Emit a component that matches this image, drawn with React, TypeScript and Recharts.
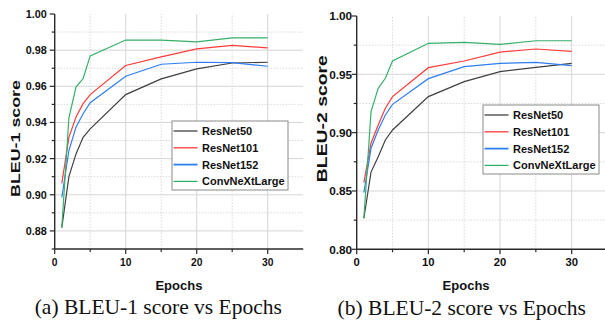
import React from 'react';
import { LineChart, Line, XAxis, YAxis, ReferenceLine } from 'recharts';

const epochs = [1, 2, 3, 4, 5, 10, 15, 20, 25, 30];
const seriesNames = ['ResNet50', 'ResNet101', 'ResNet152', 'ConvNeXtLarge'];
const seriesColors = ['#404040', '#ff3b3b', '#2f7ef0', '#35b06a'];

const resnet50B1 = [0.8818, 0.91, 0.9226, 0.9318, 0.9365, 0.9554, 0.9641, 0.9696, 0.9729, 0.9733];
const resnet101B1 = [0.9063, 0.9318, 0.943, 0.9504, 0.9554, 0.9715, 0.9763, 0.9807, 0.9826, 0.9813];
const resnet152B1 = [0.8985, 0.9244, 0.9374, 0.9448, 0.9509, 0.9656, 0.9722, 0.9733, 0.9731, 0.9711];
const convnextB1 = [0.8818, 0.9426, 0.9596, 0.9643, 0.9768, 0.9856, 0.9856, 0.9846, 0.9868, 0.9868];

const resnet50B2 = [0.8266, 0.8662, 0.8794, 0.8937, 0.9023, 0.9309, 0.9437, 0.9523, 0.956, 0.9594];
const resnet101B2 = [0.8571, 0.8909, 0.9066, 0.9209, 0.9309, 0.9557, 0.9614, 0.9691, 0.9717, 0.9697];
const resnet152B2 = [0.8486, 0.8866, 0.9023, 0.9151, 0.9243, 0.9463, 0.9566, 0.9594, 0.9603, 0.9574];
const convnextB2 = [0.8266, 0.918, 0.938, 0.9466, 0.9614, 0.9766, 0.9774, 0.9757, 0.9788, 0.9788];

const xMajor = [0, 10, 20, 30];
const xMinor = [5, 15, 25];
const y1Major = [0.88, 0.9, 0.92, 0.94, 0.96, 0.98, 1.0];
const y1Minor = [0.87, 0.89, 0.91, 0.93, 0.95, 0.97, 0.99];
const y2Major = [0.8, 0.85, 0.9, 0.95, 1.0];
const y2Minor = [0.825, 0.875, 0.925, 0.975];

const keys = ['r50', 'r101', 'r152', 'cnx'];
const build = (a: number[], b: number[], c: number[], d: number[]) =>
  epochs.map((e, i) => ({ epoch: e, r50: a[i], r101: b[i], r152: c[i], cnx: d[i] }));
const data1 = build(resnet50B1, resnet101B1, resnet152B1, convnextB1);
const data2 = build(resnet50B2, resnet101B2, resnet152B2, convnextB2);

const AXIS = '#2a2a2a';
const isIn = (arr: number[], v: number) => arr.some((m) => Math.abs(m - v) < 1e-9);
const sortNum = (a: number[], b: number[]) => [...a, ...b].sort((p, q) => p - q);

const makeXTick = (mirror: boolean, fs: number) => (props: any) => {
  const { x, y, payload } = props;
  const major = isIn(xMajor, payload.value);
  const len = major ? 5 : 3;
  const s = mirror ? 1 : 1;
  return (
    <g>
      <line x1={x} x2={x} y1={y} y2={mirror ? y + len * s : y + len} stroke={AXIS} strokeWidth={1.2} />
      {!mirror && major && (
        <text x={x} y={y + 16.7} textAnchor="middle" fontSize={fs} fontWeight={700} fill="#111" fontFamily="Liberation Sans, Arial, sans-serif">
          {payload.value}
        </text>
      )}
    </g>
  );
};

const makeYTick = (majors: number[], mirror: boolean, fs: number, gap: number) => (props: any) => {
  const { x, y, payload } = props;
  const major = isIn(majors, payload.value);
  const len = major ? 5 : 3;
  return (
    <g>
      <line x1={mirror ? x - len : x - len} x2={x} y1={y} y2={y} stroke={AXIS} strokeWidth={1.2} />
      {!mirror && major && (
        <text x={x - gap} y={y} dy="0.36em" textAnchor="end" fontSize={fs} fontWeight={700} fill="#111" fontFamily="Liberation Sans, Arial, sans-serif">
          {payload.value.toFixed(2)}
        </text>
      )}
    </g>
  );
};

const makeYLabel = (text: string, bx: number, dy: number, fs: number, len: number) => (props: any) => {
  const vb = props.viewBox || { x: 0, y: 0, width: 0, height: 0 };
  const cx = vb.x + bx;
  const cy = vb.y + vb.height / 2 + dy;
  return (
    <text
      x={cx}
      y={cy}
      transform={`rotate(-90 ${cx} ${cy})`}
      textAnchor="middle"
      fontSize={fs}
      fontWeight={700}
      fill="#111"
      textLength={len}
      lengthAdjust="spacingAndGlyphs"
      fontFamily="Liberation Sans, Arial, sans-serif"
    >
      {text}
    </text>
  );
};

type PanelProps = {
  data: any[];
  width: number;
  yWidth: number;
  top: number;
  right: number;
  xDomainMax: number;
  yDomain: [number, number];
  yMajor: number[];
  yMinor: number[];
  yLabel: string;
  yLabelX: number;
  yLabelDy: number;
  yLabelFs: number;
  yLabelLen: number;
  tickFs: number;
  tickGap: number;
  xLabelDx: number;
};

const Panel = (p: PanelProps) => {
  const xTicks = sortNum(xMajor, xMinor);
  const yTicks = sortNum(p.yMajor, p.yMinor);
  const gridYMajor = p.yMajor.filter((v) => v > p.yDomain[0] && v < p.yDomain[1]);
  const gridYMinor = p.yMinor.filter((v) => v > p.yDomain[0] && v < p.yDomain[1]);
  return (
    <LineChart width={p.width} height={300} data={p.data} margin={{ top: p.top, right: p.right, left: 0, bottom: 0 }}>
      {xMajor.filter((v) => v > 0).map((v) => (
        <ReferenceLine key={'gx' + v} x={v} stroke="#d6d6d6" strokeWidth={1} />
      ))}
      {xMinor.map((v) => (
        <ReferenceLine key={'mx' + v} x={v} stroke="#d0d0d0" strokeWidth={0.8} strokeDasharray="1.5 1.5" />
      ))}
      {gridYMajor.map((v) => (
        <ReferenceLine key={'gy' + v} y={v} stroke="#d6d6d6" strokeWidth={1} />
      ))}
      {gridYMinor.map((v) => (
        <ReferenceLine key={'my' + v} y={v} stroke="#d0d0d0" strokeWidth={0.8} strokeDasharray="1.5 1.5" />
      ))}
      <XAxis
        dataKey="epoch"
        type="number"
        domain={[0, p.xDomainMax]}
        allowDataOverflow
        ticks={xTicks}
        interval={0}
        height={300 - p.top - (p.yDomain[1] - p.yDomain[0] > 0.15 ? 233.3 : 235)}
        tickSize={0}
        tickMargin={0}
        tickLine={false}
        axisLine={{ stroke: AXIS, strokeWidth: 1.4 }}
        tick={makeXTick(false, p.tickFs - 0.5)}
        label={{
          value: 'Epochs',
          position: 'insideBottom',
          offset: 10,
          dx: p.xLabelDx,
          fill: '#111',
          fontSize: 13,
          fontWeight: 700,
          fontFamily: 'Liberation Sans, Arial, sans-serif',
        }}
      />
      <XAxis
        xAxisId="top"
        orientation="top"
        type="number"
        domain={[0, p.xDomainMax]}
        allowDataOverflow
        ticks={xTicks}
        interval={0}
        height={0}
        tickSize={0}
        tickMargin={0}
        tickLine={false}
        axisLine={{ stroke: AXIS, strokeWidth: 1.4 }}
        tick={makeXTick(true, p.tickFs)}
      />
      <YAxis
        type="number"
        domain={p.yDomain}
        allowDataOverflow
        ticks={yTicks}
        interval={0}
        width={p.yWidth}
        tickSize={0}
        tickMargin={0}
        tickLine={false}
        axisLine={{ stroke: AXIS, strokeWidth: 1.4 }}
        tick={makeYTick(p.yMajor, false, p.tickFs, p.tickGap)}
        label={makeYLabel(p.yLabel, p.yLabelX, p.yLabelDy, p.yLabelFs, p.yLabelLen)}
      />
      <YAxis
        yAxisId="right"
        orientation="right"
        type="number"
        domain={p.yDomain}
        allowDataOverflow
        ticks={yTicks}
        interval={0}
        width={0}
        tickSize={0}
        tickMargin={0}
        tickLine={false}
        axisLine={{ stroke: AXIS, strokeWidth: 1.4 }}
        tick={makeYTick(p.yMajor, true, p.tickFs, p.tickGap)}
      />
      {keys.map((k, i) => (
        <Line
          key={k}
          dataKey={k}
          name={seriesNames[i]}
          stroke={seriesColors[i]}
          strokeWidth={1.2}
          dot={false}
          activeDot={false}
          type="linear"
          isAnimationActive={false}
        />
      ))}
    </LineChart>
  );
};

const LegendBox = ({ x, y }: { x: number; y: number }) => (
  <g>
    <rect x={x} y={y} width={116} height={69} fill="#fff" stroke="#8a8a8a" strokeWidth={1} />
    {seriesNames.map((n, i) => {
      const cy = y + 10 + i * 16.8;
      return (
        <g key={n}>
          <line x1={x + 1.5} x2={x + 25.5} y1={cy} y2={cy} stroke={seriesColors[i]} strokeWidth={i === 2 ? 1.8 : 1.3} />
          <text x={x + 30} y={cy} dy="0.36em" fontSize={11} fontWeight={700} fill="#111" fontFamily="Liberation Sans, Arial, sans-serif">
            {n}
          </text>
        </g>
      );
    })}
  </g>
);

export default function App() {
  return (
    <div style={{ position: 'absolute', left: 0, top: 0, width: 605, height: 320, overflow: 'hidden', background: '#fff' }}>
      <div style={{ position: 'absolute', left: 0, top: 0 }}>
        <Panel
          data={data1}
          width={310}
          yWidth={54.7}
          top={14}
          right={6.8}
          xDomainMax={35}
          yDomain={[0.87, 1.0]}
          yMajor={y1Major}
          yMinor={y1Minor}
          yLabel="BLEU-1 score"
          yLabelX={20}
          yLabelDy={7}
          yLabelFs={12.5}
          yLabelLen={117}
          tickFs={10.8}
          tickGap={8}
          xLabelDx={0}
        />
      </div>
      <div style={{ position: 'absolute', left: 300, top: 0 }}>
        <Panel
          data={data2}
          width={312}
          yWidth={56.7}
          top={16}
          right={4.5}
          xDomainMax={35}
          yDomain={[0.8, 1.0]}
          yMajor={y2Major}
          yMinor={y2Minor}
          yLabel="BLEU-2 score"
          yLabelX={27}
          yLabelDy={-14}
          yLabelFs={14}
          yLabelLen={127}
          tickFs={11.8}
          tickGap={4.5}
          xLabelDx={-16}
        />
      </div>
      <svg width={605} height={320} style={{ position: 'absolute', left: 0, top: 0, pointerEvents: 'none' }}>
        <LegendBox x={172} y={121} />
        <LegendBox x={483} y={105} />
        <text x={158.3} y={314} textAnchor="middle" fontSize={21.5} fill="#111" fontFamily="Liberation Serif, Times New Roman, serif">
          (a) BLEU-1 score vs Epochs
        </text>
        <text x={461.8} y={315} textAnchor="middle" fontSize={21.5} fill="#111" fontFamily="Liberation Serif, Times New Roman, serif">
          (b) BLEU-2 score vs Epochs
        </text>
      </svg>
    </div>
  );
}
